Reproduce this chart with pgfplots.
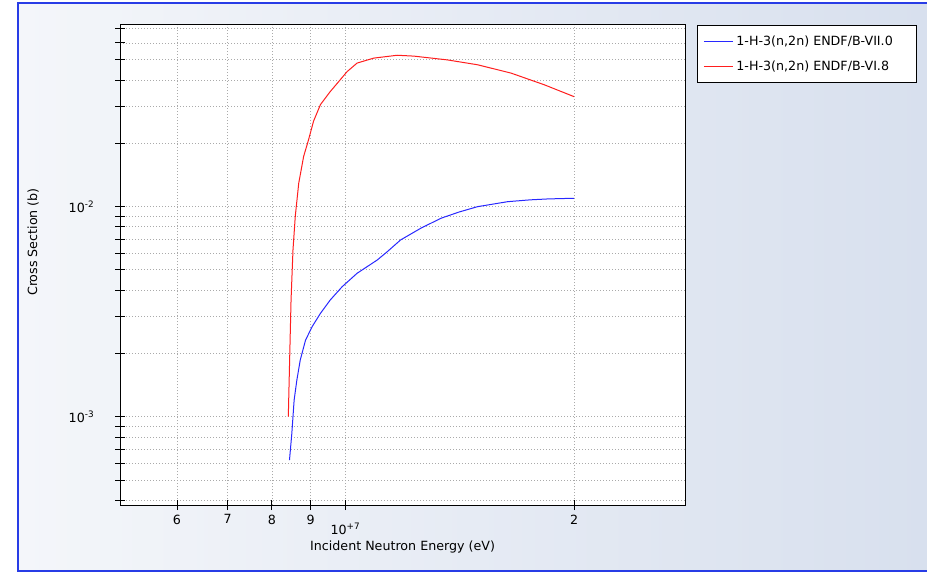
\documentclass[border=0pt]{standalone}
\usepackage{fontspec}
\setmainfont{DejaVu Sans}
\usepackage{pgfplots}
\pgfplotsset{compat=1.18}
\definecolor{bgL}{RGB}{244,246,250}
\definecolor{bgR}{RGB}{216,224,238}
\definecolor{frameblue}{RGB}{40,60,230}
\definecolor{gridc}{RGB}{170,170,170}
\definecolor{cblue}{RGB}{40,40,255}
\definecolor{cred}{RGB}{255,30,30}
\begin{document}
\begin{tikzpicture}[font=\fontsize{9.5}{11}\selectfont]
\path[use as bounding box] (0,0) rectangle (695.25pt,429.75pt);
\shade[left color=bgL, right color=bgR] (13.5pt,1.5pt) rectangle (695.25pt,427.5pt);
\draw[frameblue, line width=1pt] (695.25pt,427.5pt) -- (13.5pt,427.5pt) -- (13.5pt,1.5pt) -- (695.25pt,1.5pt);
\begin{axis}[
  at={(90pt,51pt)}, anchor=south west, scale only axis,
  width=423.75pt, height=360pt,
  xmode=log, ymode=log,
  xmin=5.05e6, xmax=2.8e7, ymin=3.8e-4, ymax=7.3e-2,
  axis background/.style={fill=white},
  axis line style={black, line width=0.75pt},
  tick align=center, xtick pos=bottom, ytick pos=left,
  major tick length=7.5pt, minor tick length=7.5pt,
  every tick/.style={black, line width=0.6pt},
  xtick={6e6,7e6,8e6,9e6,2e7}, xticklabels={6,7,8,9,2},
  minor xtick={},
  extra x ticks={1e7}, extra x tick labels={10\textsuperscript{+7}},
  extra x tick style={xmajorgrids=true, xticklabel style={yshift=-6pt}},
  ytick={1e-3,1e-2}, yticklabels={10\textsuperscript{-3},10\textsuperscript{-2}},
  minor ytick={4e-4,5e-4,6e-4,7e-4,8e-4,9e-4,2e-3,3e-3,4e-3,5e-3,6e-3,7e-3,8e-3,9e-3,2e-2,3e-2,4e-2,5e-2,6e-2,7e-2},
  yticklabel style={xshift=-12pt},
  grid=both,
  major grid style={gridc, line width=0.5pt, dash pattern=on 0.75pt off 1.5pt},
  minor grid style={gridc, line width=0.5pt, dash pattern=on 0.75pt off 1.5pt},
  xlabel={Incident Neutron Energy (eV)},
  ylabel={Cross Section (b)},
  xlabel style={at={(axis description cs:0.5,-0.0875)}, anchor=center},
  ylabel style={at={(axis description cs:-0.154,0.548)}, anchor=center},
  legend style={at={(1.021,1)}, anchor=north west, draw=black, fill=white,
    line width=0.75pt, inner xsep=4.5pt, inner ysep=5.5pt, row sep=6.5pt,
    cells={anchor=west}, font=\fontsize{9.5}{11}\selectfont},
  legend image code/.code={\draw[#1, line width=0.75pt] (0pt,0pt) -- (22pt,0pt);},
]
\addplot[draw=cblue, line width=0.75pt] coordinates {
(8.44e6,6.21e-4) (8.50e6,8.32e-4) (8.56e6,1.2e-3) (8.63e6,1.49e-3)
(8.72e6,1.86e-3) (8.86e6,2.31e-3) (9.04e6,2.68e-3) (9.27e6,3.10e-3)
(9.55e6,3.59e-3) (9.90e6,4.15e-3) (1.036e7,4.81e-3) (1.101e7,5.56e-3)
(1.135e7,6.09e-3) (1.182e7,6.93e-3) (1.256e7,7.87e-3) (1.335e7,8.78e-3)
(1.41e7,9.40e-3) (1.493e7,9.98e-3) (1.636e7,1.054e-2) (1.75e7,1.075e-2)
(1.848e7,1.086e-2) (2.0e7,1.094e-2)
};
\addlegendentry{1-H-3(n,2n) ENDF/B-VII.0\rule{11pt}{0pt}}
\addplot[draw=cred, line width=0.75pt] coordinates {
(8.41e6,1.0e-3) (8.44e6,1.73e-3) (8.48e6,3.59e-3) (8.53e6,6.21e-3)
(8.59e6,9.0e-3) (8.68e6,1.29e-2) (8.81e6,1.73e-2) (8.94e6,2.07e-2)
(9.08e6,2.55e-2) (9.27e6,3.05e-2) (9.55e6,3.52e-2) (9.80e6,3.93e-2)
(1.005e7,4.38e-2) (1.036e7,4.81e-2) (1.090e7,5.08e-2) (1.17e7,5.24e-2)
(1.231e7,5.19e-2) (1.362e7,4.98e-2) (1.493e7,4.72e-2) (1.652e7,4.31e-2)
(1.828e7,3.79e-2) (2.0e7,3.33e-2)
};
\addlegendentry{1-H-3(n,2n) ENDF/B-VI.8}
\end{axis}
\end{tikzpicture}
\end{document}
